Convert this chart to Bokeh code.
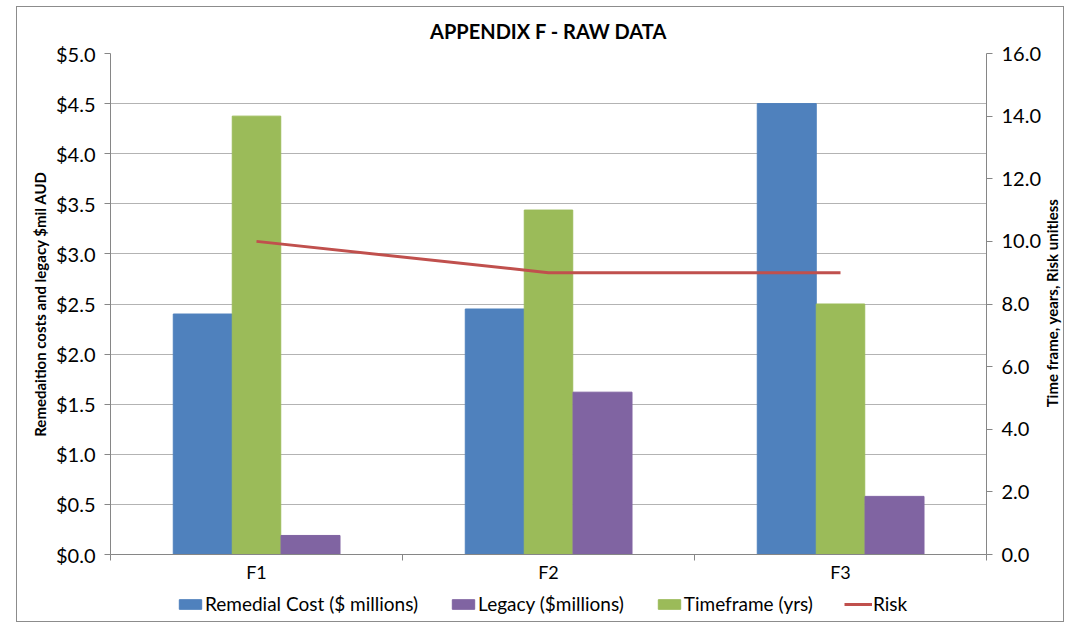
import math
from bokeh.plotting import figure
from bokeh.layouts import column, row
from bokeh.models import (Range1d, LinearAxis, FixedTicker, NumeralTickFormatter,
                          Legend, LegendItem, ColumnDataSource, InlineStyleSheet, Label)
from bokeh.transform import dodge
from bokeh.embed import file_html
from bokeh.resources import INLINE

# Raw data per option
categories = ["F1", "F2", "F3"]
remedial_cost = [2.40, 2.45, 4.50]      # $ millions (left axis)
legacy = [0.19, 1.62, 0.58]             # $ millions (left axis)
timeframe = [14.0, 11.0, 8.0]           # years (right axis)
risk = [10.0, 9.0, 9.0]                 # unitless (right axis)

cost_ticks = [0.0, 0.5, 1.0, 1.5, 2.0, 2.5, 3.0, 3.5, 4.0, 4.5, 5.0]
right_ticks = [0.0, 2.0, 4.0, 6.0, 8.0, 10.0, 12.0, 14.0, 16.0]

FONT = "Lato"
AXIS_GREY = "#868686"
TEXT = "#000000"
C_COST, C_LEGACY, C_TIME, C_RISK = "#4F81BD", "#8064A2", "#9BBB59", "#C0504D"

centers = [i + 0.5 for i in range(len(categories))]
bounds = [float(i) for i in range(len(categories) + 1)]

src = ColumnDataSource(dict(x=centers, cost=remedial_cost, legacy=legacy,
                            timeframe=timeframe, risk=risk))

p = figure(frame_width=876, frame_height=501,
           x_range=Range1d(0, len(categories)),
           y_range=Range1d(cost_ticks[0], cost_ticks[-1]),
           output_backend="svg", toolbar_location=None,
           min_border_left=110, min_border_right=51,
           min_border_top=53, min_border_bottom=29)
p.extra_y_ranges = {"right": Range1d(right_ticks[0], right_ticks[-1])}
p.outline_line_color = None
p.background_fill_color = "white"
p.border_fill_color = "white"

# Title
p.title.text = "APPENDIX F - RAW DATA"
p.title.align = "center"
p.title.text_font = FONT
p.title.text_font_style = "bold"
p.title.text_font_size = "20px"
p.title.text_color = TEXT
p.title.standoff = 21

# Left axis: costs
ly = p.yaxis[0]
ly.ticker = FixedTicker(ticks=cost_ticks)
ly.formatter = NumeralTickFormatter(format="$0.0")
ly.axis_label = "Remedaition costs and legacy $mil AUD"
ly.axis_label_text_font = FONT
ly.axis_label_text_font_style = "bold"
ly.axis_label_text_font_size = "15px"
ly.axis_label_text_color = TEXT
ly.axis_label_standoff = 4

# Right axis: timeframe and risk
ry = LinearAxis(y_range_name="right",
                ticker=FixedTicker(ticks=right_ticks),
                formatter=NumeralTickFormatter(format="0.0"))
p.add_layout(ry, "right")

for ax in (ly, ry):
    ax.axis_line_color = AXIS_GREY
    ax.major_tick_line_color = AXIS_GREY
    ax.major_tick_out = 6
    ax.major_tick_in = 0
    ax.minor_tick_line_color = None
    ax.major_label_text_font = FONT
    ax.major_label_text_font_size = "20px"
    ax.major_label_text_color = TEXT
    ax.major_label_standoff = 9

# Category axis: labels at centres, tick marks on the boundaries
xa = p.xaxis[0]
xa.ticker = FixedTicker(ticks=centers, minor_ticks=bounds)
xa.major_label_overrides = {c: name for c, name in zip(centers, categories)}
xa.major_tick_line_color = None
xa.major_tick_out = 0
xa.major_tick_in = 0
xa.minor_tick_line_color = AXIS_GREY
xa.minor_tick_out = 6
xa.minor_tick_in = 0
xa.axis_line_color = AXIS_GREY
xa.major_label_text_font = FONT
xa.major_label_text_font_size = "18px"
xa.major_label_text_color = TEXT
xa.major_label_standoff = 0

p.xgrid.visible = False
p.ygrid.grid_line_color = "#b3b3b3"
p.ygrid.grid_line_width = 1

# Bars and risk line
p.vbar(x=dodge("x", -0.184, range=p.x_range), top="cost", width=0.202,
       source=src, fill_color=C_COST, line_color=C_COST)
p.vbar(x="x", top="timeframe", width=0.166, y_range_name="right",
       source=src, fill_color=C_TIME, line_color=C_TIME)
p.vbar(x=dodge("x", 0.185, range=p.x_range), top="legacy", width=0.202,
       source=src, fill_color=C_LEGACY, line_color=C_LEGACY)
p.line(x="x", y="risk", y_range_name="right", source=src,
       line_color=C_RISK, line_width=3)


def blank_figure(**kw):
    f = figure(output_backend="svg", toolbar_location=None,
               x_range=Range1d(0, 1), y_range=Range1d(0, 1),
               min_border_left=0, min_border_right=0,
               min_border_top=0, min_border_bottom=0, **kw)
    f.axis.visible = False
    f.grid.visible = False
    f.outline_line_color = None
    f.background_fill_color = "white"
    f.border_fill_color = "white"
    return f


# Right-hand axis title, reading bottom-to-top
rt = blank_figure(width=36, height=583)
rt.add_layout(Label(x=0.2, y=0.5, text="Time frame, years, Risk unitless",
                    angle=math.pi / 2, text_align="center", text_baseline="middle",
                    text_font=FONT, text_font_style="bold",
                    text_font_size="15px", text_color=TEXT))

# Legend strip underneath the chart (swatch renderers sit outside the visible range)
lg = blank_figure(width=1073, height=41)
lg.min_border_left = 110
lg.min_border_right = 87
sw = dict(x=[-1.0], top=[0.0])
sw_cost = lg.vbar(x="x", top="top", width=0.1, source=ColumnDataSource(sw),
                  fill_color=C_COST, line_color=C_COST)
sw_leg = lg.vbar(x="x", top="top", width=0.1, source=ColumnDataSource(sw),
                 fill_color=C_LEGACY, line_color=C_LEGACY)
sw_time = lg.vbar(x="x", top="top", width=0.1, source=ColumnDataSource(sw),
                  fill_color=C_TIME, line_color=C_TIME)
sw_risk = lg.line(x=[-1.0, -0.9], y=[0.0, 0.0], line_color=C_RISK, line_width=3)

legend = Legend(items=[
    LegendItem(label="Remedial Cost ($ millions)", renderers=[sw_cost]),
    LegendItem(label="Legacy ($millions)", renderers=[sw_leg]),
    LegendItem(label="Timeframe (yrs)", renderers=[sw_time]),
    LegendItem(label="Risk", renderers=[sw_risk]),
], orientation="horizontal", location=(66, 11))
legend.label_text_font = FONT
legend.label_text_font_size = "19px"
legend.label_text_color = TEXT
legend.glyph_width = 28
legend.glyph_height = 12
legend.label_standoff = 1
legend.spacing = 31
legend.padding = 0
legend.margin = 0
legend.border_line_color = None
legend.background_fill_alpha = 0
lg.add_layout(legend, "center")

page = column(row(p, rt, spacing=0), lg, spacing=0)
# Thin grey frame around the whole chart
page.stylesheets = [InlineStyleSheet(css="""
:host { position: relative; }
:host::after {
  content: ""; position: absolute; left: 16px; top: 6px;
  width: 1048px; height: 616px; border: 1px solid #8c8c8c;
  pointer-events: none; box-sizing: border-box;
}
""")]

open("out.html", "w").write(file_html(page, INLINE))
